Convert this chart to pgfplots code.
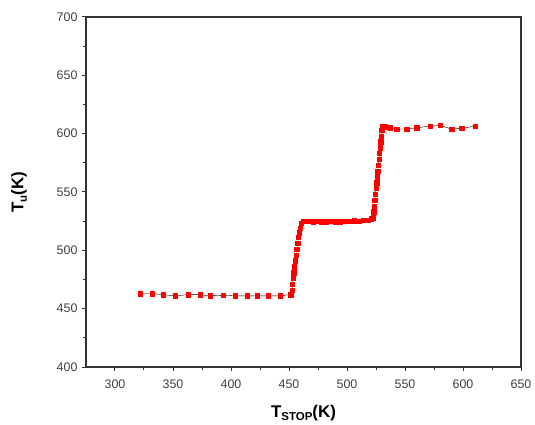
\documentclass[border=0pt]{standalone}
\usepackage{fontspec}
\setmainfont{Liberation Sans}
\usepackage{pgfplots}
\pgfplotsset{compat=1.18}

\pgfplotstableread{
x y
321.5 463
331.9 463
341.4 462
351.7 461
362.9 462
373.3 462
381.9 461
393.1 461.5
403.4 461
413.8 461
422.4 461
431.9 461
442.2 461
450.8 462
452.0 462
452.5 466
453.0 471
453.5 476
454.0 481
454.5 486
455.5 491
456.0 496
456.5 501
457.5 506
458.0 511
459.0 515
459.5 519
460.5 523
462.0 525
465 525
468 525
471 524.5
474 525
478 524.5
482 524.5
486 525
490 524.5
494 524.5
498 525
502 525
506 525.5
510 525
514 526
518 526
521 527
522.5 528
523.0 533
523.5 538
524.0 543
524.5 548
525.0 553
525.5 558
526.0 563
526.5 568
527.0 573
527.5 578
528.0 583
528.5 588
529.0 593
529.5 598
530.0 603
530.5 606
532.7 606
537.0 605
542.8 604
551.4 604
560.0 605
571.5 606.5
580.2 607
590.2 604
598.8 604.5
610.3 606.5
}\datatable

\begin{document}
\begin{tikzpicture}
\useasboundingbox (-86bp,-58bp) rectangle (449bp,367bp);
\begin{axis}[
    at={(0,0)}, anchor=south west,
    width=435bp, height=350bp, scale only axis,
    xmin=275, xmax=650, ymin=400, ymax=700,
    xtick={300,350,...,650}, ytick={400,450,...,700},
    minor x tick num=1, minor y tick num=1,
    xtick pos=bottom, ytick pos=left,
    tick align=outside,
    major tick length=4bp, minor tick length=3bp,
    axis line style={line width=1.3bp, draw=black!80},
    every tick/.style={line width=1bp, black!80},
    /pgf/number format/assume math mode=true,
    /pgf/number format/1000 sep={},
    ticklabel style={font=\fontsize{12.5}{14}\selectfont, text=black!75},
    xticklabel style={yshift=-5bp},
    yticklabel style={xshift=-1bp},
    xlabel={\fontsize{17}{19}\selectfont\bfseries T\raisebox{-0.4ex}{\fontsize{11.5}{12}\selectfont STOP}(K)},
    ylabel={\fontsize{17}{19}\selectfont\bfseries T\raisebox{-0.4ex}{\fontsize{11.5}{12}\selectfont u}(K)},
    every axis x label/.style={at={(axis description cs:0.5,0)}, yshift=-46bp, anchor=center},
    every axis y label/.style={at={(axis description cs:0,0.5)}, xshift=-67bp, rotate=90, anchor=center},
]
\addplot[black, line width=0.4bp, mark=square*, mark size=2.2bp,
  mark options={draw=red, fill=red}] table[x=x, y=y] {\datatable};
\end{axis}
\end{tikzpicture}
\end{document}
